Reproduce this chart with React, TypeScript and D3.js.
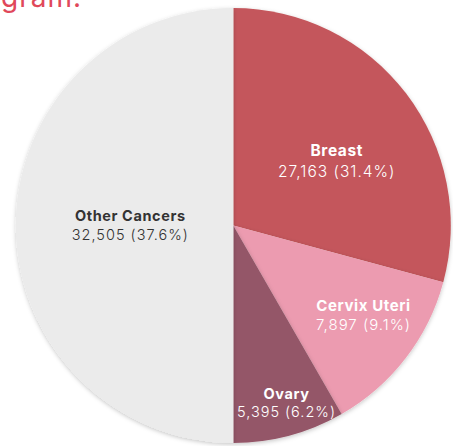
import React from "react";
import * as d3 from "d3";

const categories = ["Breast", "Cervix Uteri", "Ovary", "Other Cancers"];
const cases = [27163, 7897, 5395, 32505];
const percents = [31.4, 9.1, 6.2, 37.6];
// angular share of each slice as drawn in the reference (percent of the full circle)
const sliceShares = [29.2, 12.5, 8.3, 50.0];
const colors = ["#c4575b", "#ec9bb0", "#945668", "#ebebeb"];
const textColors = ["#ffffff", "#ffffff", "#ffffff", "#333333"];
const headerFragment = "gram.";

const W = 453;
const H = 446;
const cx = 233.3;
const cy = 225.5;
const R = 217.5;

// label placement (polar: angle in degrees clockwise from 12 o'clock, radius in px)
const labelPolar = [
  { a: 58, r: 122 },
  { a: 124.5, r: 158 },
  { a: 163.3, r: 185 },
  { a: 270, r: 103 },
];
const fontSizes = [15.5, 15, 14.5, 14.5];
const lineGaps = [21, 19, 18.5, 19];

export default function App() {
  const pie = d3
    .pie<number>()
    .value((d) => d)
    .sort(null)
    .startAngle(0)
    .endAngle(2 * Math.PI);
  const arcs = pie(sliceShares);
  const arc = d3.arc<d3.PieArcDatum<number>>().innerRadius(0).outerRadius(R);
  const fmt = d3.format(",");

  return (
    <svg
      width={W}
      height={H}
      style={{ position: "absolute", left: 0, top: 0, background: "#fff" }}
      fontFamily="Inter, 'Open Sans', sans-serif"
    >
      <defs>
        <filter id="sh" x="-20%" y="-20%" width="140%" height="140%">
          <feDropShadow dx="0" dy="1.5" stdDeviation="2" floodColor="#000" floodOpacity="0.22" />
        </filter>
      </defs>
      <text x={1} y={7} fill="#e0485a" fontSize={28} letterSpacing={1}>
        {headerFragment}
      </text>
      <g transform={`translate(${cx},${cy})`}>
        {arcs.map((a, i) => (
          <path key={i} d={arc(a) || ""} fill={colors[i]} filter="url(#sh)" />
        ))}
        {arcs.map((a, i) => {
          const ang = (labelPolar[i].a * Math.PI) / 180;
          const x = Math.sin(ang) * labelPolar[i].r;
          const y = -Math.cos(ang) * labelPolar[i].r;
          const fs = fontSizes[i];
          return (
            <g key={"l" + i} transform={`translate(${x},${y})`} fill={textColors[i]} textAnchor="middle">
              <text y={-lineGaps[i] / 2 + fs * 0.36} fontSize={fs} fontWeight={700} letterSpacing={0.6}>
                {categories[i]}
              </text>
              <text y={lineGaps[i] / 2 + fs * 0.36} fontSize={fs} fontWeight={300} letterSpacing={1}>
                {`${fmt(cases[i])} (${percents[i]}%)`}
              </text>
            </g>
          );
        })}
      </g>
    </svg>
  );
}
